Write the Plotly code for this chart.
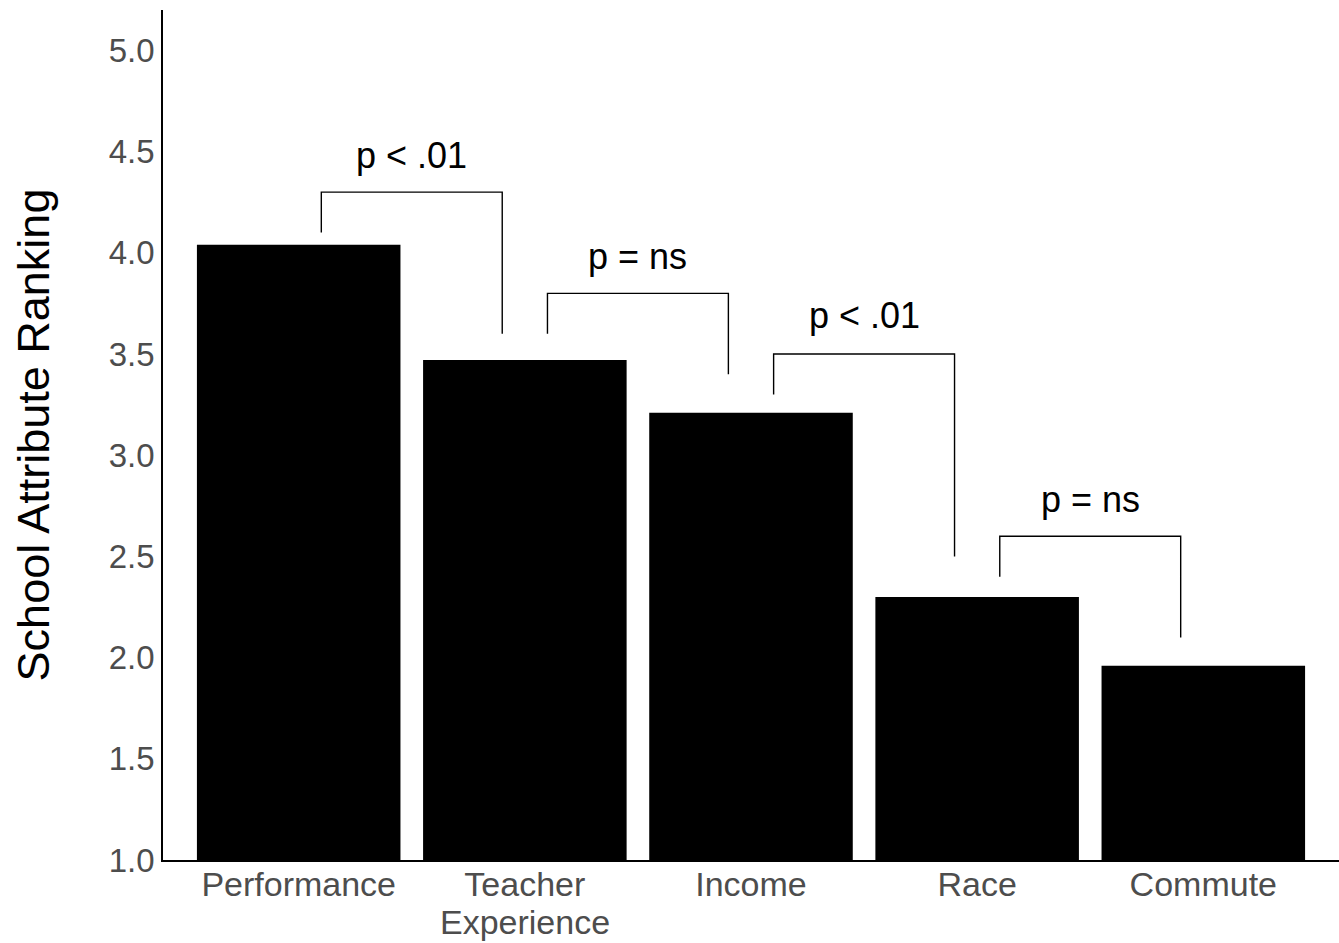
import plotly.graph_objects as go

categories = ["Performance", "Teacher", "Income", "Race", "Commute"]
category_second_line = ["", "Experience", "", "", ""]
rankings = [4.04, 3.47, 3.21, 2.30, 1.96]

# significance brackets between neighbouring bars
bracket_left_x = [0.1, 1.1, 2.1, 3.1]
bracket_right_x = [0.9, 1.9, 2.9, 3.9]
bracket_left_y = [4.1, 3.6, 3.3, 2.4]
bracket_top_y = [4.3, 3.8, 3.5, 2.6]
bracket_right_y = [3.6, 3.4, 2.5, 2.1]
bracket_labels = ["p < .01", "p = ns", "p < .01", "p = ns"]
label_y = [4.48, 3.98, 3.69, 2.78]

y_ticks = [1.0, 1.5, 2.0, 2.5, 3.0, 3.5, 4.0, 4.5, 5.0]

FONT = "Liberation Sans, Arial, Helvetica, sans-serif"
TICK_COLOR = "#4D4D4D"

fig = go.Figure()
xpos = list(range(len(categories)))
fig.add_trace(go.Bar(x=xpos, y=rankings, width=0.9, marker=dict(color="black", line=dict(width=0)),
                     showlegend=False, hoverinfo="skip"))

for i in range(len(bracket_labels)):
    fig.add_trace(go.Scatter(
        x=[bracket_left_x[i], bracket_left_x[i], bracket_right_x[i], bracket_right_x[i]],
        y=[bracket_left_y[i], bracket_top_y[i], bracket_top_y[i], bracket_right_y[i]],
        mode="lines", line=dict(color="black", width=1.4), showlegend=False, hoverinfo="skip"))
    fig.add_annotation(x=(bracket_left_x[i] + bracket_right_x[i]) / 2, y=label_y[i],
                       text=bracket_labels[i], showarrow=False, xref="x", yref="y",
                       font=dict(family=FONT, size=36, color="black"), yanchor="middle")

# second line of multi-line category labels
for i, extra in enumerate(category_second_line):
    if extra:
        fig.add_annotation(x=xpos[i], y=0, xref="x", yref="paper", text=extra, showarrow=False,
                           yanchor="middle", yshift=-62,
                           font=dict(family=FONT, size=34, color=TICK_COLOR))

fig.update_layout(
    width=1339, height=943,
    margin=dict(l=163, r=0, t=10, b=83),
    plot_bgcolor="white", paper_bgcolor="white",
    font=dict(family=FONT),
    bargap=0.1,
)
fig.update_xaxes(
    range=[-0.6, 4.6], tickmode="array", tickvals=xpos, ticktext=categories,
    showline=True, linecolor="black", linewidth=1.5, showgrid=False, zeroline=False,
    ticks="", tickfont=dict(family=FONT, size=34, color=TICK_COLOR),
    automargin=False, ticklabelstandoff=-7,
)
fig.update_yaxes(
    range=[1.0, 5.2], tickmode="array", tickvals=y_ticks, ticktext=[f"{v:.1f}" for v in y_ticks],
    showline=True, linecolor="black", linewidth=1.5, showgrid=False, zeroline=False,
    ticks="", tickfont=dict(family=FONT, size=33, color=TICK_COLOR),
    automargin=False,
    title=dict(text="School Attribute Ranking", font=dict(family=FONT, size=45, color="black"), standoff=45),
)

fig.write_html("out.html")
